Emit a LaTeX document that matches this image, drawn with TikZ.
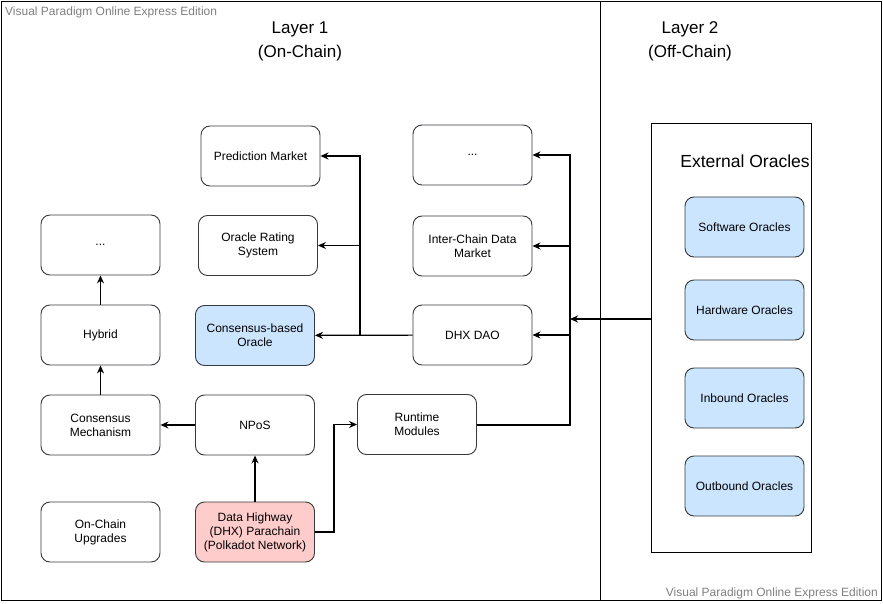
\documentclass[tikz,border=0pt]{standalone}
\usepackage{fontspec}
\setmainfont{Liberation Sans}
\usetikzlibrary{arrows.meta}
\definecolor{boxblue}{HTML}{CCE5FF}
\definecolor{boxpink}{HTML}{FFCCCC}
\definecolor{boxline}{HTML}{36393D}
\definecolor{wm}{HTML}{7F7F7F}
\begin{document}
\begin{tikzpicture}[x=1pt,y=-1pt,
  box/.style={draw=boxline, rounded corners=9pt, minimum width=119pt, minimum height=60pt,
    align=center, inner sep=2pt, font=\fontsize{12}{14}\selectfont, line width=0.9pt, fill=white},
  bluebox/.style={box, fill=boxblue},
  pinkbox/.style={box, fill=boxpink},
  arr/.style={-{Stealth[length=8pt,width=7pt]}, line width=1.2pt},
  thick line/.style={line width=2pt},
  title/.style={font=\fontsize{17}{24}\selectfont, align=center},
  wmark/.style={text=wm, font=\fontsize{12}{14}\selectfont, inner sep=0pt}
]
\useasboundingbox (0,0) rectangle (883,604);
\draw[line width=0.9pt] (1,1) rectangle (881,600);
\draw[line width=0.9pt] (600,1) -- (600,600);

\node[wmark, anchor=west] (wm1) at (5,12) {Visual Paradigm Online Express Edition};
\node[wmark, anchor=east] (wm2) at (878,593) {Visual Paradigm Online Express Edition};

\node[title] (l1) at (300,41.5) {Layer 1\\(On-Chain)};
\node[title] (l2) at (690,41.5) {Layer 2\\(Off-Chain)};

% left column
\node[box] (dotsL) at (100.5,245) {...};
\node[box] (hyb) at (100.5,335) {Hybrid};
\node[box] (cm) at (100.5,425) {Consensus\\Mechanism};
\node[box] (ocu) at (100.5,532) {On-Chain\\Upgrades};

% middle column
\node[box] (pm) at (260.5,156) {Prediction Market};
\node[box] (ors) at (258,245.5) {Oracle Rating\\System};
\node[bluebox] (cbo) at (255,335.5) {Consensus-based\\Oracle};
\node[box] (npos) at (255,425) {NPoS};
\node[pinkbox] (dh) at (255,532) {Data Highway\\(DHX) Parachain\\(Polkadot Network)};

% right column
\node[box] (dotsR) at (472.5,155) {...};
\node[box] (icdm) at (472.5,246) {Inter-Chain Data\\Market};
\node[box] (dao) at (472.5,335) {DHX DAO};
\node[box] (rm) at (417,424.5) {Runtime\\Modules};

% external oracles
\node[draw, line width=0.9pt, minimum width=160pt, minimum height=429pt, inner sep=0pt] (ext) at (731,337.5) {};
\node[font=\fontsize{17.5}{20}\selectfont] (extt) at (745,161) {External Oracles};
\node[bluebox] (so) at (744.5,227) {Software Oracles};
\node[bluebox] (ho) at (744.5,310) {Hardware Oracles};
\node[bluebox] (io) at (744.5,398) {Inbound Oracles};
\node[bluebox] (oo) at (744.5,486) {Outbound Oracles};

% junction coordinates
\coordinate (j1) at (360,335.5);
\coordinate (j2) at (570,424.5);
\coordinate (j3) at (570,319);
\coordinate (j4) at (334,532);

% connectors
\draw[arr] (hyb) -- (dotsL);
\draw[arr] (cm) -- (hyb);
\draw[arr] (npos) -- (cm);
\draw[arr] (dh) -- (npos);
\draw[arr] (dh.east) -- (j4) |- (rm.west);

\draw[arr] (dao) -- (cbo);
\draw[arr] (j1) |- (ors.east);
\draw[arr, thick line] (j1) |- (pm.east);

\draw[arr, thick line] (rm.east) -- (j2) |- (dotsR.east);
\draw[arr] (j2) |- (icdm.east);
\draw[arr] (j2) |- (dao.east);
\draw[arr] (ext.west |- j3) -- (j3);
\end{tikzpicture}
\end{document}
